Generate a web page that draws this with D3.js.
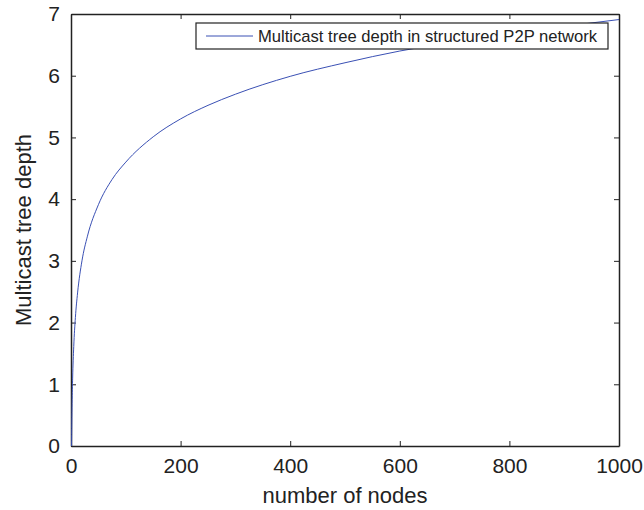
<!DOCTYPE html>
<html>
<head>
<meta charset="utf-8">
<script src="https://cdn.jsdelivr.net/npm/d3@7"></script>
<style>
  body { margin: 0; background: #fff; }
  svg text { font-family: "Liberation Sans", Arial, sans-serif; fill: #222; }
</style>
</head>
<body>
<div id="chart"></div>
<script>
// values
const nodes = [1, 2, 3, 5, 8, 12, 20, 30, 50, 75, 100, 150, 200, 250, 300, 400, 500, 600, 700, 800, 900, 1000];
const depth = [0, 0.69, 1.1, 1.61, 2.08, 2.48, 3.0, 3.4, 3.91, 4.32, 4.6, 5.01, 5.3, 5.52, 5.7, 5.99, 6.21, 6.4, 6.55, 6.68, 6.8, 6.91];
const xTicks = [0, 200, 400, 600, 800, 1000];
const yTicks = [0, 1, 2, 3, 4, 5, 6, 7];
const seriesName = "Multicast tree depth in structured P2P network";

const width = 644, height = 510;
const margin = {top: 14, right: 25, bottom: 64, left: 71};

const svg = d3.select("#chart").append("svg")
  .attr("width", width)
  .attr("height", height);

const x = d3.scaleLinear().domain([0, 1000]).range([margin.left, width - margin.right]);
const y = d3.scaleLinear().domain([0, 7]).range([height - margin.bottom, margin.top]);

const tick = 5;
const fmt = d3.format("d");

// bottom axis
svg.append("g")
  .attr("transform", `translate(0,${y(0)})`)
  .call(d3.axisBottom(x).tickValues(xTicks).tickFormat(fmt).tickSizeInner(-tick).tickSizeOuter(0).tickPadding(12))
  .call(g => g.selectAll("text").attr("font-size", 21));

// top axis (ticks only)
svg.append("g")
  .attr("transform", `translate(0,${y(7)})`)
  .call(d3.axisTop(x).tickValues(xTicks).tickSizeInner(-tick).tickSizeOuter(0).tickFormat(""));

// left axis
svg.append("g")
  .attr("transform", `translate(${x(0)},0)`)
  .call(d3.axisLeft(y).tickValues(yTicks).tickFormat(fmt).tickSizeInner(-tick).tickSizeOuter(0).tickPadding(11))
  .call(g => g.selectAll("text").attr("font-size", 21));

// right axis (ticks only)
svg.append("g")
  .attr("transform", `translate(${x(1000)},0)`)
  .call(d3.axisRight(y).tickValues(yTicks).tickSizeInner(-tick).tickSizeOuter(0).tickFormat(""));

svg.selectAll(".domain").attr("stroke", "#222").attr("stroke-width", 1.5);
svg.selectAll(".tick line").attr("stroke", "#222");

// curve
const line = d3.line()
  .x((d, i) => x(nodes[i]))
  .y(d => y(d))
  .curve(d3.curveMonotoneX);

svg.append("path")
  .datum(depth)
  .attr("fill", "none")
  .attr("stroke", "#3a50b4")
  .attr("stroke-width", 1)
  .attr("d", line);

// legend
const lg = svg.append("g").attr("transform", "translate(196,23)");
lg.append("rect")
  .attr("width", 412).attr("height", 26)
  .attr("fill", "#fff").attr("stroke", "#222").attr("stroke-width", 1.2);
lg.append("line")
  .attr("x1", 10).attr("x2", 57).attr("y1", 13).attr("y2", 13)
  .attr("stroke", "#3a50b4").attr("stroke-width", 1);
lg.append("text")
  .attr("x", 62).attr("y", 13).attr("dy", "0.35em")
  .attr("font-size", 16.6)
  .text(seriesName);

// axis titles
svg.append("text")
  .attr("x", (x(0) + x(1000)) / 2).attr("y", 503)
  .attr("text-anchor", "middle").attr("font-size", 22)
  .text("number of nodes");

svg.append("text")
  .attr("transform", `translate(31,${(y(0) + y(7)) / 2}) rotate(-90)`)
  .attr("text-anchor", "middle").attr("font-size", 22)
  .text("Multicast tree depth");
</script>
</body>
</html>
